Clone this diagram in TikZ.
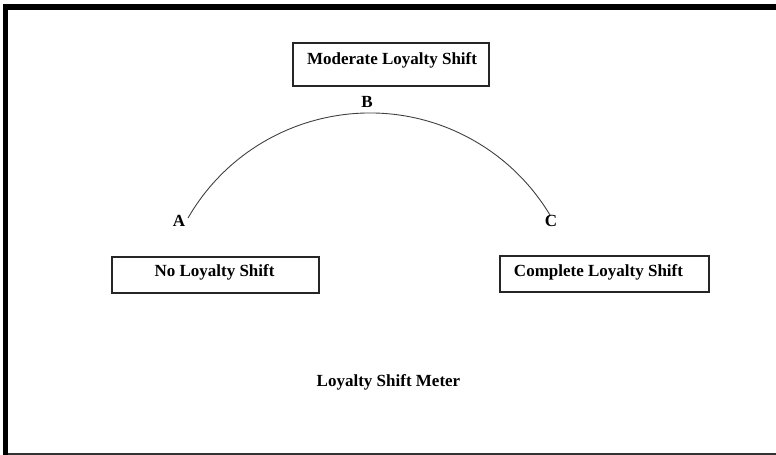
\documentclass[tikz,border=0pt]{standalone}
\usepackage{fontspec}
\setmainfont{Liberation Serif}
\begin{document}
\begin{tikzpicture}[x=1bp,y=-1bp,
  box/.style={draw=black!85, line width=1.2bp, minimum width=#1, minimum height=36bp, inner sep=0pt},
  txt/.style={font=\fontsize{17bp}{20bp}\selectfont\bfseries, anchor=base, inner sep=0pt},
  meter/.style={draw=black!75, line width=0.9bp}]
\useasboundingbox (0,0) rectangle (776,455);
% frame
\fill[black] (3,4) rectangle (776,10);
\fill[black] (3,4) rectangle (8,455);
\fill[black!80] (8,452.5) rectangle (776,454.5);
% boxes
\node[box=196bp, minimum height=43bp] (mod) at (391,64.5) {};
\node[box=207bp] (no) at (215.5,275) {};
\node[box=209bp] (comp) at (604.5,274) {};
\node[txt] (modt) at (392,65) {Moderate Loyalty Shift};
\node[txt] (not) at (214.5,277) {No Loyalty Shift};
\node[txt] (compt) at (598.5,277) {Complete Loyalty Shift};
% arc
\coordinate (arcA) at (188,218);
\draw[meter] (arcA) arc[start angle=210, end angle=329, radius=210];
\node[txt] (A) at (179,227) {A};
\node[txt] (B) at (367,108) {B};
\node[txt] (C) at (551,227) {C};
% title
\node[txt] (title) at (388.5,387) {Loyalty Shift Meter};
\end{tikzpicture}
\end{document}
